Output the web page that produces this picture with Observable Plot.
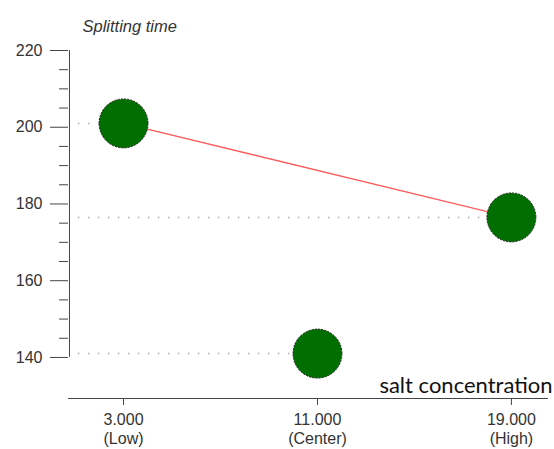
<!DOCTYPE html>
<html><head><meta charset="utf-8">
<script src="https://cdn.jsdelivr.net/npm/d3@7"></script>
<script src="https://cdn.jsdelivr.net/npm/@observablehq/plot@0.6"></script>
<style>body{margin:0;background:#fff}</style>
</head><body><div id="chart"></div>
<script>
const levels = [3, 11, 19];
const levelNames = ["Low", "Center", "High"];
const splittingTime = [201, 141, 176.5];
const yTicks = [140, 160, 180, 200, 220];
const yMinorTicks = [145, 150, 155, 165, 170, 175, 185, 190, 195, 205, 210, 215];
const yTitle = "Splitting time";
const xTitle = "salt concentration";
const connected = ["Low", "High"];

const data = levels.map((x, i) => ({x, name: levelNames[i], y: splittingTime[i]}));
const lineData = data.filter(d => connected.includes(d.name));

const chart = Plot.plot({
  width: 554, height: 449,
  marginLeft: 68, marginRight: 6, marginTop: 50, marginBottom: 51,
  x: {domain: [0.73, 20.53]},
  y: {domain: [129.3, 220]},
  style: {fontFamily: "'Liberation Sans', Arial, sans-serif", fontSize: "16px", color: "#333", background: "#fff"},
  marks: [
    Plot.ruleX([0.77], {y1: 140, y2: 220, stroke: "#444"}),
    Plot.ruleY([129.3], {stroke: "#444"}),
    Plot.axisY(yTicks, {tickSize: 18, tickPadding: 8, label: null, stroke: "#444", fill: "#333", fontSize: 16}),
    Plot.axisY(yMinorTicks, {tickSize: 9, tickFormat: () => "", label: null, stroke: "#444"}),
    Plot.axisX(levels, {tickSize: 7, tickPadding: 6, label: null, stroke: "#444", fill: "#333", fontSize: 16, lineHeight: 1.2,
      tickFormat: (d) => `${d.toFixed(3)}\n(${levelNames[levels.indexOf(d)]})`}),
    Plot.ruleY(data, {y: "y", x1: 1.14, x2: "x", stroke: "#aaa", strokeWidth: 1.5, strokeDasharray: "1.5,8.5"}),
    Plot.line(lineData, {x: "x", y: "y", stroke: "#ff5a5a", strokeWidth: 1.3}),
    Plot.dot(data, {x: "x", y: "y", r: 24.5, fill: "#006e00", stroke: "#222", strokeWidth: 1, strokeDasharray: "2,1.2"}),
    Plot.text([yTitle], {frameAnchor: "top-left", dx: 14, dy: -19, textAnchor: "start", lineAnchor: "bottom", fontStyle: "italic", fontSize: 16.5, fill: "#333"}),
    Plot.text([xTitle], {frameAnchor: "bottom-right", dx: 4, dy: -6, textAnchor: "end", lineAnchor: "bottom", fontSize: 22, fill: "#111", fontFamily: "Lato, 'Open Sans', sans-serif"})
  ]
});
document.getElementById("chart").append(chart);
</script>
</body></html>
